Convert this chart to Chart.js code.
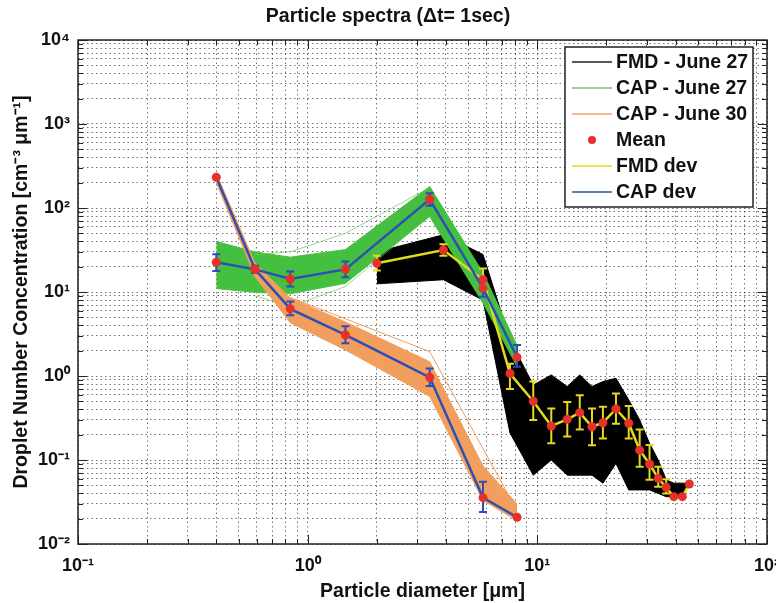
<!DOCTYPE html>
<html><head><meta charset="utf-8">
<script src="https://cdn.jsdelivr.net/npm/chart.js@4.4.1/dist/chart.umd.min.js"></script>
<style>html,body{margin:0;padding:0;background:#fff;} #wrap{width:776px;height:603px;}</style>
</head><body><div id="wrap"><canvas id="c" width="776" height="603"></canvas></div>
<script>
// ---------- text ----------
const titleText = 'Particle spectra (\u0394t= 1sec)';
const xAxisTitle = 'Particle diameter [\u03bcm]';
const yAxisTitle = 'Droplet Number Concentration [cm\u207b\u00b3 \u03bcm\u207b\u00b9]';
const legendLabels = ['FMD - June 27', 'CAP - June 27', 'CAP - June 30', 'Mean', 'FMD dev', 'CAP dev'];

// ---------- ticks ----------
const xDecades = [0.1, 1, 10, 100];
const xTickLabels = ['10\u207b\u00b9', '10\u2070', '10\u00b9', '10\u00b2'];
const yDecades = [0.01, 0.1, 1, 10, 100, 1000, 10000];
const yTickLabels = ['10\u207b\u00b2', '10\u207b\u00b9', '10\u2070', '10\u00b9', '10\u00b2', '10\u00b3', '10\u2074'];
const minorMultipliers = [1, 2, 3, 4, 5, 6, 7, 8, 9];

// ---------- FMD - June 27 (black bundle, yellow dev) ----------
const fmdDiam   = [2.0, 3.9, 5.8, 7.6, 9.6, 11.5, 13.5, 15.3, 17.3, 19.3, 22.0, 25.0, 27.9, 30.8, 33.6, 36.4, 39.3, 42.8, 45.9];
const fmdMean   = [22, 31.6, 14, 1.07, 0.50, 0.254, 0.305, 0.366, 0.249, 0.278, 0.405, 0.274, 0.131, 0.0896, 0.0605, 0.0473, 0.0366, 0.0366, 0.0518];
const fmdErrLow = [18, 27, 11, 0.70, 0.30, 0.158, 0.19, 0.23, 0.15, 0.18, 0.27, 0.18, 0.083, 0.058, 0.048, 0.040, null, null, null];
const fmdErrHigh= [27, 37, 19, 1.40, 0.86, 0.41, 0.49, 0.59, 0.41, 0.43, 0.62, 0.44, 0.23, 0.151, 0.083, 0.059, null, null, null];
const fmdTop    = [30, 48, 28, 2.7, 0.78, 1.03, 0.75, 1.03, 0.75, 0.86, 0.94, 0.52, 0.30, 0.158, 0.10, 0.058, 0.053, 0.053, 0.053];
const fmdBottom = [12.5, 14, 8, 0.21, 0.066, 0.10, 0.066, 0.066, 0.066, 0.053, 0.091, 0.044, 0.044, 0.044, 0.040, 0.0366, 0.0366, 0.040, 0.048];

// ---------- CAP - June 27 (green bundle, blue dev) ----------
const capDiam     = [0.40, 0.59, 0.84, 1.46, 3.40, 5.80, 8.16];
const cap27Mean   = [22.6, 18.6, 14.3, 18.6, 127, 11.1, 1.67];
const cap27ErrLow = [17.8, 17.0, 11.6, 15.0, 106, 8.8, 1.29];
const cap27ErrHigh= [28.1, 20.5, 17.5, 23.0, 150, 13.9, 2.34];
const cap27Top    = [40, 30, 26, 32, 180, 17, 2.3];
const cap27Bottom = [11, 9.9, 9.5, 12.7, 79, 7.4, 1.3];
const cap27StrayDiam = [0.59, 0.84, 1.46, 3.40];
const cap27StrayHigh = [28, 30, 50, 175];
const cap27StrayLow  = [9, 6.7, 11.6, 80];

// ---------- CAP - June 30 (orange bundle, blue dev) ----------
const cap30Mean   = [232, 18.6, 6.3, 3.08, 0.965, 0.0356, 0.0208];
const cap30ErrLow = [null, 17.0, 5.3, 2.45, 0.76, 0.024, null];
const cap30ErrHigh= [null, 20.0, 7.7, 3.9, 1.23, 0.055, null];
const cap30Top    = [260, 22, 8.5, 4.4, 1.48, 0.085, 0.03];
const cap30Bottom = [200, 15.2, 4.3, 2.04, 0.57, 0.033, 0.019];
const cap30StrayDiam = [0.84, 1.46, 3.40, 8.16];
const cap30StrayHigh = [8.6, 4.8, 1.95, 0.025];

// ---------- helpers ----------
const pts = (xs, ys) => xs.map((x, i) => ({x: x, y: ys[i]}));
const buildTicks = (decades) => {
  const out = [];
  for (let i = 0; i < decades.length - 1; i++) minorMultipliers.forEach(m => out.push(decades[i] * m));
  out.push(decades[decades.length - 1]);
  return out;
};
const labelFor = (v, decades, labels) => {
  const i = decades.findIndex(d => Math.abs(Math.log10(v) - Math.log10(d)) < 1e-6);
  return i >= 0 ? labels[i] : '';
};
const isDecade = (v) => Math.abs(Math.log10(v) - Math.round(Math.log10(v))) < 1e-6;

const FONT = '"Liberation Sans", Arial, sans-serif';
const C_BLACK = '#000000', C_GREEN = '#45bf3f', C_GREEN_L = 'rgba(108,200,90,0.7)', C_ORANGE = '#f29e5c';
const C_RED = '#e8302a', C_YELLOW = '#e4da1c', C_BLUE = '#2d4fb5';

const line = (data, color, width, order, extra) => Object.assign({
  data: data, borderColor: color, backgroundColor: color, borderWidth: width,
  pointRadius: 0, tension: 0, fill: false, order: order
}, extra || {});

const datasets = [
  // means (on top)
  line(pts(capDiam, cap30Mean), C_RED, 0, 1, {showLine: false, pointRadius: 4.5, pointBackgroundColor: C_RED, pointBorderWidth: 0}),
  line(pts(capDiam, cap27Mean), C_RED, 0, 1, {showLine: false, pointRadius: 4.5, pointBackgroundColor: C_RED, pointBorderWidth: 0}),
  line(pts(fmdDiam, fmdMean), C_RED, 0, 2, {showLine: false, pointRadius: 4.5, pointBackgroundColor: C_RED, pointBorderWidth: 0}),
  // dev lines with error bars
  line(pts(capDiam, cap30Mean), C_BLUE, 2.5, 3, {errLow: cap30ErrLow, errHigh: cap30ErrHigh}),
  line(pts(capDiam, cap27Mean), C_BLUE, 2.5, 3, {errLow: cap27ErrLow, errHigh: cap27ErrHigh}),
  line(pts(fmdDiam, fmdMean), C_YELLOW, 2.5, 4, {errLow: fmdErrLow, errHigh: fmdErrHigh}),
  // orange bundle
  line(pts(cap30StrayDiam, cap30StrayHigh), C_ORANGE, 1, 6),
  line(pts(capDiam, cap30Top), C_ORANGE, 1, 6),
  line(pts(capDiam, cap30Bottom), C_ORANGE, 1, 6, {fill: '-1'}),
  // green bundle
  line(pts(cap27StrayDiam, cap27StrayHigh), C_GREEN_L, 1, 8),
  line(pts(cap27StrayDiam, cap27StrayLow), C_GREEN_L, 1, 8),
  line(pts(capDiam, cap27Top), C_GREEN, 1, 8),
  line(pts(capDiam, cap27Bottom), C_GREEN, 1, 8, {fill: '-1'}),
  // black bundle
  line(pts(fmdDiam, fmdTop), C_BLACK, 1, 10),
  line(pts(fmdDiam, fmdBottom), C_BLACK, 1, 10, {fill: '-1'})
];

const legendStyles = [
  {kind: 'line', color: '#222222'},
  {kind: 'line', color: '#7cc46a'},
  {kind: 'line', color: '#f2a570'},
  {kind: 'dot', color: C_RED},
  {kind: 'line', color: C_YELLOW},
  {kind: 'line', color: C_BLUE}
];

const framePlugin = {
  id: 'frame',
  afterDatasetDraw(chart, args) {
    const ds = chart.data.datasets[args.index];
    if (!ds.errLow) return;
    const {ctx, chartArea: a} = chart;
    const x = chart.scales.x, y = chart.scales.y;
    ctx.save();
    ctx.beginPath(); ctx.rect(a.left, a.top, a.right - a.left, a.bottom - a.top); ctx.clip();
    ctx.strokeStyle = ds.borderColor; ctx.lineWidth = 2;
    ds.data.forEach((p, i) => {
      const lo = ds.errLow[i], hi = ds.errHigh[i];
      if (lo == null || hi == null) return;
      const px = x.getPixelForValue(p.x), y1 = y.getPixelForValue(lo), y2 = y.getPixelForValue(hi);
      ctx.beginPath();
      ctx.moveTo(px, y1); ctx.lineTo(px, y2);
      ctx.moveTo(px - 4, y1); ctx.lineTo(px + 4, y1);
      ctx.moveTo(px - 4, y2); ctx.lineTo(px + 4, y2);
      ctx.stroke();
    });
    ctx.restore();
  },
  afterDatasetsDraw(chart) {
    const {ctx, chartArea: a} = chart;
    const x = chart.scales.x, y = chart.scales.y;
    ctx.save();
    ctx.strokeStyle = '#222'; ctx.lineWidth = 1;
    ctx.beginPath();
    x.ticks.forEach(t => {
      const px = Math.round(x.getPixelForValue(t.value)) + 0.5;
      const len = isDecade(t.value) ? 9 : 5;
      ctx.moveTo(px, a.bottom); ctx.lineTo(px, a.bottom - len);
      ctx.moveTo(px, a.top); ctx.lineTo(px, a.top + len);
    });
    y.ticks.forEach(t => {
      const py = Math.round(y.getPixelForValue(t.value)) + 0.5;
      const len = isDecade(t.value) ? 9 : 5;
      ctx.moveTo(a.left, py); ctx.lineTo(a.left + len, py);
      ctx.moveTo(a.right, py); ctx.lineTo(a.right - len, py);
    });
    ctx.stroke();
    ctx.lineWidth = 1.5;
    ctx.strokeRect(a.left, a.top, a.right - a.left, a.bottom - a.top);
    ctx.restore();
  },
  afterDraw(chart) {
    const ctx = chart.ctx;
    const L = 565, T = 47, W = 188, H = 160;
    ctx.save();
    ctx.fillStyle = '#ffffff'; ctx.fillRect(L, T, W, H);
    ctx.strokeStyle = '#222'; ctx.lineWidth = 1.5; ctx.strokeRect(L, T, W, H);
    ctx.font = 'bold 19.5px ' + FONT;
    ctx.textBaseline = 'middle'; ctx.textAlign = 'left';
    legendLabels.forEach((lab, i) => {
      const yy = T + 15 + i * 26;
      const st = legendStyles[i];
      if (st.kind === 'line') {
        ctx.strokeStyle = st.color; ctx.lineWidth = 1.5;
        ctx.beginPath(); ctx.moveTo(572, yy); ctx.lineTo(612, yy); ctx.stroke();
      } else {
        ctx.fillStyle = st.color;
        ctx.beginPath(); ctx.arc(592, yy, 4, 0, Math.PI * 2); ctx.fill();
      }
      ctx.fillStyle = '#111';
      ctx.fillText(lab, 616, yy + 1);
    });
    ctx.restore();
  }
};

new Chart(document.getElementById('c'), {
  type: 'line',
  data: {datasets: datasets},
  plugins: [framePlugin],
  options: {
    responsive: false, animation: false, devicePixelRatio: 1, events: [],
    layout: {padding: {left: 0, right: 0, top: 0, bottom: 0}},
    plugins: {
      legend: {display: false}, tooltip: {enabled: false},
      title: {display: true, text: titleText, color: '#111',
        font: {family: FONT, size: 19.5, weight: 'bold'}, padding: {top: 5, bottom: 11.6}}
    },
    scales: {
      x: {
        type: 'logarithmic', min: 0.1, max: 100,
        afterBuildTicks: s => { s.ticks = buildTicks(xDecades).map(v => ({value: v, major: isDecade(v)})); },
        afterFit: s => { s.height = 59; s.paddingRight = 9; s.paddingLeft = 0; },
        ticks: {autoSkip: false, maxRotation: 0, padding: 11, color: '#111',
          font: {family: FONT, size: 18, weight: 'bold'},
          callback: v => labelFor(v, xDecades, xTickLabels)},
        grid: {color: 'rgba(0,0,0,0.55)', lineWidth: 1, drawTicks: false},
        border: {display: false, dash: [1.5, 3]},
        title: {display: true, text: xAxisTitle, color: '#111',
          font: {family: FONT, size: 19.5, weight: 'bold'}, padding: {top: 0, bottom: 0}}
      },
      y: {
        type: 'logarithmic', min: 0.01, max: 10000,
        afterBuildTicks: s => { s.ticks = buildTicks(yDecades).map(v => ({value: v, major: isDecade(v)})); },
        afterFit: s => { s.width = 78; },
        ticks: {autoSkip: false, padding: 8, color: '#111',
          font: {family: FONT, size: 18, weight: 'bold'},
          callback: v => labelFor(v, yDecades, yTickLabels)},
        grid: {color: 'rgba(0,0,0,0.55)', lineWidth: 1, drawTicks: false},
        border: {display: false, dash: [1.5, 3]},
        title: {display: true, text: yAxisTitle, color: '#111',
          font: {family: FONT, size: 19.5, weight: 'bold'}, padding: {top: 10, bottom: 0}}
      }
    }
  }
});
</script></body></html>
